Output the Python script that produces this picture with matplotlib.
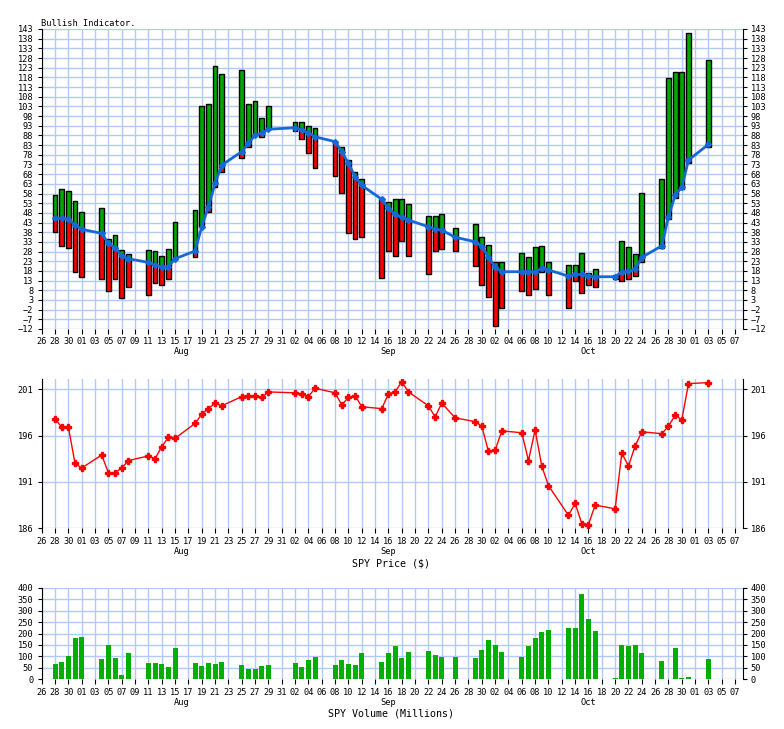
import numpy as np
import pandas as pd
import matplotlib
matplotlib.use("Agg")
import matplotlib.pyplot as plt
import matplotlib.dates as mdates
import matplotlib.transforms as mtrans

# trading days (Sep 25 missing in source)
dates = ["2014-07-28", "2014-07-29", "2014-07-30", "2014-07-31", "2014-08-01",
         "2014-08-04", "2014-08-05", "2014-08-06", "2014-08-07", "2014-08-08",
         "2014-08-11", "2014-08-12", "2014-08-13", "2014-08-14", "2014-08-15",
         "2014-08-18", "2014-08-19", "2014-08-20", "2014-08-21", "2014-08-22",
         "2014-08-25", "2014-08-26", "2014-08-27", "2014-08-28", "2014-08-29",
         "2014-09-02", "2014-09-03", "2014-09-04", "2014-09-05",
         "2014-09-08", "2014-09-09", "2014-09-10", "2014-09-11", "2014-09-12",
         "2014-09-15", "2014-09-16", "2014-09-17", "2014-09-18", "2014-09-19",
         "2014-09-22", "2014-09-23", "2014-09-24", "2014-09-26",
         "2014-09-29", "2014-09-30", "2014-10-01", "2014-10-02", "2014-10-03",
         "2014-10-06", "2014-10-07", "2014-10-08", "2014-10-09", "2014-10-10",
         "2014-10-13", "2014-10-14", "2014-10-15", "2014-10-16", "2014-10-17",
         "2014-10-20", "2014-10-21", "2014-10-22", "2014-10-23", "2014-10-24",
         "2014-10-27", "2014-10-28", "2014-10-29", "2014-10-30", "2014-10-31",
         "2014-11-03"]

bull_top = [57.2, 60.1, 59.1, 54.0, 48.3,
            50.3, 34.3, 36.4, 29.0, 26.6,
            29.0, 28.1, 25.5, 29.1, 43.1,
            49.5, 103.0, 104.1, 123.7, 119.7,
            121.6, 104.1, 105.8, 96.8, 103.0,
            94.8, 94.8, 92.7, 91.7,
            85.1, 81.9, 75.1, 69.0, 65.3,
            55.0, 53.8, 55.0, 55.0, 52.4,
            46.4, 46.4, 47.2, 40.0,
            42.0, 35.4, 31.2, 22.4, 22.4,
            27.1, 25.3, 30.2, 31.0, 22.4,
            21.2, 21.2, 27.1, 17.1, 19.1,
            16.0, 33.3, 30.2, 26.6, 58.1,
            65.3, 117.5, 120.6, 120.6, 140.8,
            126.8]
bull_bot = [38.3, 31.0, 30.0, 17.2, 15.0,
            14.0, 7.4, 14.0, 4.2, 9.5,
            5.4, 11.6, 10.5, 13.6, 24.3,
            25.3, 40.8, 48.3, 61.2, 69.0,
            76.2, 81.9, 88.2, 87.0, 91.2,
            90.1, 86.0, 78.8, 71.0,
            67.0, 58.1, 37.4, 34.3, 35.4,
            14.1, 28.3, 25.5, 33.3, 25.5,
            16.2, 28.3, 29.1, 28.3,
            20.3, 10.5, 4.3, -10.5, -1.2,
            7.4, 5.4, 8.5, 17.2, 5.4,
            -1.2, 12.6, 6.4, 10.5, 9.5,
            13.8, 12.6, 13.6, 15.3, 22.6,
            30.0, 45.0, 55.5, 60.5, 73.6,
            82.2]
bull_ma = [45.2, 45.2, 44.8, 41.7, 39.5,
           37.4, 32.2, 30.0, 25.7, 24.3,
           22.4, 20.9, 20.2, 20.2, 24.3,
           28.3, 40.8, 51.2, 63.3, 72.7,
           79.6, 83.9, 88.2, 89.1, 91.2,
           92.0, 90.8, 89.4, 87.3,
           84.8, 79.6, 73.6, 66.7, 62.2,
           55.0, 50.3, 47.2, 45.7, 44.3,
           40.8, 39.5, 39.1, 35.4,
           33.1, 30.5, 25.3, 19.8, 17.6,
           17.6, 17.6, 17.6, 19.3, 18.5,
           15.3, 16.2, 16.2, 15.5, 15.0,
           15.0, 17.6, 17.8, 18.8, 25.0,
           31.0, 46.0, 57.2, 61.2, 75.3,
           83.4]
spy_price = [197.8, 196.9, 196.9, 193.0, 192.5,
             193.9, 192.0, 192.0, 192.5, 193.3,
             193.8, 193.5, 194.8, 195.8, 195.7,
             197.3, 198.3, 198.9, 199.5, 199.2,
             200.2, 200.3, 200.3, 200.1, 200.7,
             200.6, 200.5, 200.2, 201.1,
             200.6, 199.3, 200.1, 200.3, 199.1,
             198.9, 200.5, 200.7, 201.8, 200.7,
             199.2, 198.0, 199.5, 197.9,
             197.5, 197.0, 194.3, 194.4, 196.5,
             196.3, 193.3, 196.6, 192.7, 190.6,
             187.4, 188.7, 186.5, 186.4, 188.5,
             188.1, 194.1, 192.7, 194.9, 196.4,
             196.2, 197.0, 198.2, 197.7, 201.6,
             201.7]
spy_volume = [67, 76, 102, 180, 186,
              89, 150, 93, 19, 115,
              71, 71, 67, 54, 137,
              71, 58, 71, 67, 76,
              63, 45, 45, 58, 63,
              71, 54, 84, 97,
              63, 84, 67, 63, 115,
              76, 115, 145, 93, 119,
              124, 106, 97, 97,
              93, 128, 172, 150, 119,
              97, 145, 180, 207, 215,
              224, 224, 372, 263, 211,
              6, 150, 145, 150, 115,
              80, 3, 137, 6, 10,
              89]

bull_ticks = list(range(-12, 144, 5))
price_ticks = [186, 191, 196, 201]
vol_ticks = list(range(0, 401, 50))
month_names = ["Aug", "Sep", "Oct"]
month_pos = ["2014-08-16", "2014-09-16", "2014-10-16"]

x = mdates.date2num(pd.to_datetime(dates))
top = np.array(bull_top)
bot = np.array(bull_bot)
ma = np.array(bull_ma)

W, H = 784, 729
fig = plt.figure(figsize=(W / 100, H / 100), dpi=100)
mono = "DejaVu Sans Mono"
FS = 6.2
GRID = "#b3c9f7"
x0 = mdates.date2num(pd.Timestamp("2014-07-26"))
x1 = x0 + 105.1
xt = np.arange(x0, x0 + 104.5, 2)


def px_axes(left, top_px, right, bottom_px):
    return fig.add_axes([left / W, 1 - bottom_px / H, (right - left) / W, (bottom_px - top_px) / H])


def style(ax, yticks, ylim):
    ax.set_xlim(x0, x1)
    ax.set_ylim(*ylim)
    ax.set_xticks(xt)
    ax.xaxis.set_major_formatter(mdates.DateFormatter("%d"))
    ax.set_yticks(yticks)
    ax.grid(True, color=GRID, lw=1.0)
    ax.set_axisbelow(True)
    for s in ["top", "bottom"]:
        ax.spines[s].set_visible(False)
    for s in ["left", "right"]:
        ax.spines[s].set_linewidth(0.8)
    ax.tick_params(axis="y", which="both", left=True, right=True, labelleft=True,
                   labelright=True, direction="out", length=3, width=0.8, pad=3,
                   labelsize=FS)
    ax.tick_params(axis="x", direction="out", length=3.5, width=0.8, pad=2.5, labelsize=FS)
    for lab in ax.get_xticklabels() + ax.get_yticklabels():
        lab.set_family(mono)
    trans = mtrans.blended_transform_factory(ax.transData, ax.transAxes)
    for name, pos in zip(month_names, month_pos):
        ax.annotate(name, (mdates.date2num(pd.Timestamp(pos)), 0), xycoords=trans,
                    xytext=(0, -23), textcoords="offset pixels", ha="center", va="center",
                    fontsize=FS, family=mono)


# ---- bullish indicator
ax1 = px_axes(41.7, 29, 742.5, 329)
style(ax1, bull_ticks, (-12, 143))
bw = 0.72
g_lo = np.maximum(bot, ma)
g_h = np.where(top > ma, top - g_lo, 0)
r_hi = np.minimum(top, ma)
r_h = np.where(bot < ma, r_hi - bot, 0)
ax1.bar(x, g_h, bottom=g_lo, width=bw, color="#00a800", lw=0, zorder=2)
ax1.bar(x, r_h, bottom=bot, width=bw, color="#ff0000", lw=0, zorder=2)
ax1.bar(x, top - bot, bottom=bot, width=bw, fill=False, edgecolor="black", lw=1.0, zorder=3)
ax1.plot(x, ma, color="#1569d4", lw=2, marker="D", ms=3, zorder=4)
fig.text(41 / W, 1 - 24 / H, "Bullish Indicator.", fontsize=FS, family=mono,
         ha="left", va="center")

# ---- price
ax2 = px_axes(41.7, 379.3, 742.5, 528.3)
style(ax2, price_ticks, (186, 202.06))
ax2.plot(x, spy_price, color="#ff0000", lw=1, marker="P", ms=5, zorder=3)
fig.text(391 / W, 1 - 563 / H, "SPY Price ($)", fontsize=7.2, family=mono,
         ha="center", va="center")

# ---- volume
ax3 = px_axes(41.7, 587.7, 742.5, 679.3)
style(ax3, vol_ticks, (0, 400))
ax3.bar(x, spy_volume, width=0.75, color="#00b000", lw=0, zorder=2)
fig.text(391 / W, 1 - 713 / H, "SPY Volume (Millions)", fontsize=7.2, family=mono,
         ha="center", va="center")

fig.savefig("out.png", dpi=100)
